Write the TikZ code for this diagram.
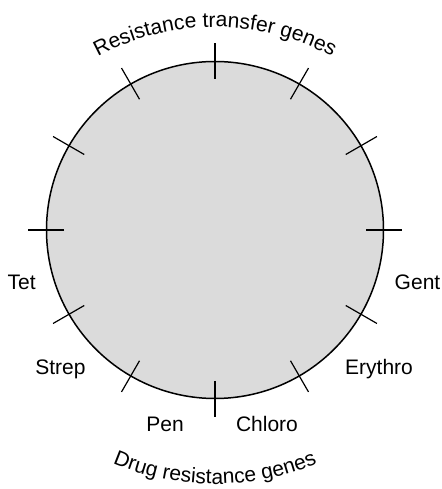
\documentclass[tikz,border=0pt]{standalone}
\usepackage{fontspec}
\setmainfont{Liberation Sans}
\usetikzlibrary{decorations.text}
\definecolor{fillgray}{gray}{0.86}
\newcommand\lblfont{\fontsize{21}{25}\selectfont}
\begin{document}
\begin{tikzpicture}[x=1pt,y=1pt,
  tickthin/.style={line width=1.2pt},
  tickthick/.style={line width=2.9pt},
  lbl/.style={font=\lblfont, inner sep=0pt, anchor=base},
  plasmidstyle/.style={circle, draw, line width=1.5pt, fill=fillgray, minimum size=337pt, inner sep=0pt}]
\useasboundingbox (0,0) rectangle (441,489);
\coordinate (c) at (215,259);
\coordinate (tc) at (215,217);
\coordinate (bc) at (215,266);
\node[plasmidstyle] (plasmid) at (c) {};
\foreach \a in {30,60,90,120,150,210,240,270,300,330}
  \draw[tickthin] ([shift={(\a:151)}]c) -- ([shift={(\a:187)}]c);
\foreach \a in {0,180}
  \draw[tickthick] ([shift={(\a:151)}]c) -- ([shift={(\a:187)}]c);
\node[lbl] (tet) at (21.7,199) {Tet};
\node[lbl] (gent) at (417.5,199) {Gent};
\node[lbl] (strep) at (60.5,114) {Strep};
\node[lbl] (erythro) at (379,114) {Erythro};
\node[lbl] (pen) at (165,57) {Pen};
\node[lbl] (chloro) at (267,57) {Chloro};
\path[decorate, decoration={text along path, text align=center,
  text={|\lblfont|Resistance transfer genes}}]
  ([shift={(150:245)}]tc) arc[start angle=150, end angle=30, radius=245];
\path[decorate, decoration={text along path, text align=center,
  text={|\lblfont|Drug resistance genes}}]
  ([shift={(210:261)}]bc) arc[start angle=210, end angle=330, radius=261];
\end{tikzpicture}
\end{document}
